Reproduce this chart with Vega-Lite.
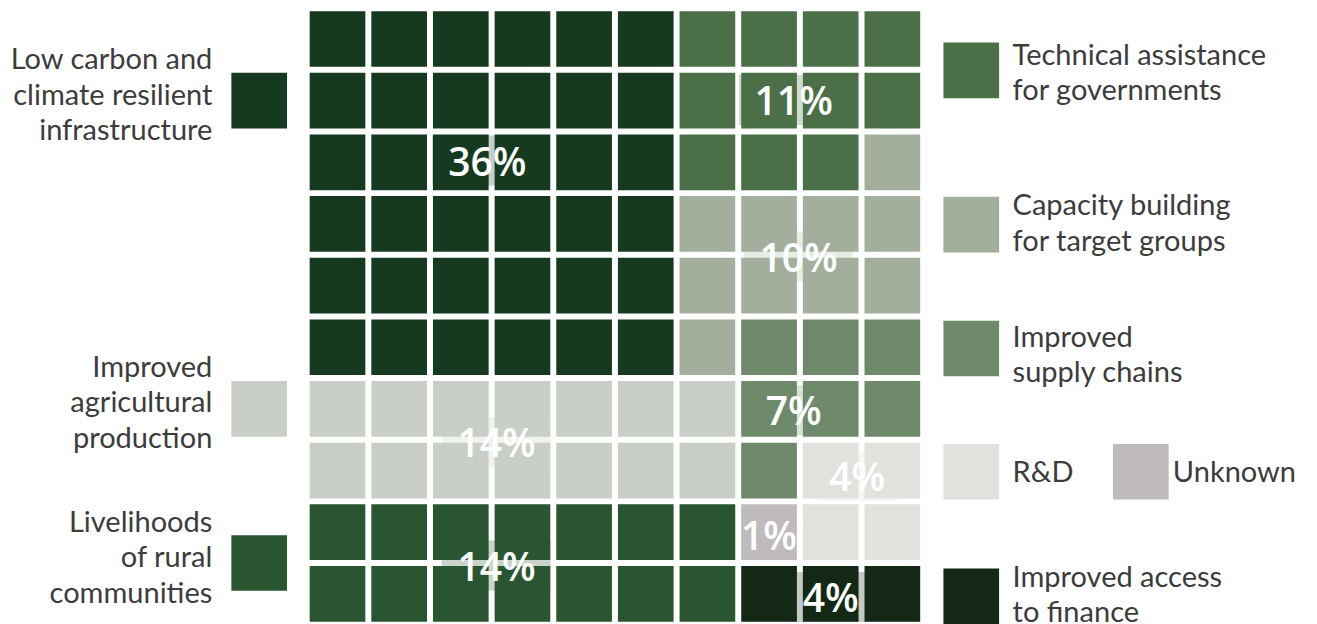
{
  "$schema": "https://vega.github.io/schema/vega-lite/v6.json",
  "width": 1317,
  "height": 624,
  "autosize": {"type": "none"},
  "padding": 0,
  "background": "white",
  "config": {"view": {"stroke": null}},
  "datasets": {
    "cells": [
      {"row": 0, "col": 0, "category": "Infrastructure"}, {"row": 0, "col": 1, "category": "Infrastructure"}, {"row": 0, "col": 2, "category": "Infrastructure"}, {"row": 0, "col": 3, "category": "Infrastructure"}, {"row": 0, "col": 4, "category": "Infrastructure"}, {"row": 0, "col": 5, "category": "Infrastructure"}, {"row": 0, "col": 6, "category": "Technical assistance"}, {"row": 0, "col": 7, "category": "Technical assistance"}, {"row": 0, "col": 8, "category": "Technical assistance"}, {"row": 0, "col": 9, "category": "Technical assistance"},
      {"row": 1, "col": 0, "category": "Infrastructure"}, {"row": 1, "col": 1, "category": "Infrastructure"}, {"row": 1, "col": 2, "category": "Infrastructure"}, {"row": 1, "col": 3, "category": "Infrastructure"}, {"row": 1, "col": 4, "category": "Infrastructure"}, {"row": 1, "col": 5, "category": "Infrastructure"}, {"row": 1, "col": 6, "category": "Technical assistance"}, {"row": 1, "col": 7, "category": "Technical assistance"}, {"row": 1, "col": 8, "category": "Technical assistance"}, {"row": 1, "col": 9, "category": "Technical assistance"},
      {"row": 2, "col": 0, "category": "Infrastructure"}, {"row": 2, "col": 1, "category": "Infrastructure"}, {"row": 2, "col": 2, "category": "Infrastructure"}, {"row": 2, "col": 3, "category": "Infrastructure"}, {"row": 2, "col": 4, "category": "Infrastructure"}, {"row": 2, "col": 5, "category": "Infrastructure"}, {"row": 2, "col": 6, "category": "Technical assistance"}, {"row": 2, "col": 7, "category": "Technical assistance"}, {"row": 2, "col": 8, "category": "Technical assistance"}, {"row": 2, "col": 9, "category": "Capacity building"},
      {"row": 3, "col": 0, "category": "Infrastructure"}, {"row": 3, "col": 1, "category": "Infrastructure"}, {"row": 3, "col": 2, "category": "Infrastructure"}, {"row": 3, "col": 3, "category": "Infrastructure"}, {"row": 3, "col": 4, "category": "Infrastructure"}, {"row": 3, "col": 5, "category": "Infrastructure"}, {"row": 3, "col": 6, "category": "Capacity building"}, {"row": 3, "col": 7, "category": "Capacity building"}, {"row": 3, "col": 8, "category": "Capacity building"}, {"row": 3, "col": 9, "category": "Capacity building"},
      {"row": 4, "col": 0, "category": "Infrastructure"}, {"row": 4, "col": 1, "category": "Infrastructure"}, {"row": 4, "col": 2, "category": "Infrastructure"}, {"row": 4, "col": 3, "category": "Infrastructure"}, {"row": 4, "col": 4, "category": "Infrastructure"}, {"row": 4, "col": 5, "category": "Infrastructure"}, {"row": 4, "col": 6, "category": "Capacity building"}, {"row": 4, "col": 7, "category": "Capacity building"}, {"row": 4, "col": 8, "category": "Capacity building"}, {"row": 4, "col": 9, "category": "Capacity building"},
      {"row": 5, "col": 0, "category": "Infrastructure"}, {"row": 5, "col": 1, "category": "Infrastructure"}, {"row": 5, "col": 2, "category": "Infrastructure"}, {"row": 5, "col": 3, "category": "Infrastructure"}, {"row": 5, "col": 4, "category": "Infrastructure"}, {"row": 5, "col": 5, "category": "Infrastructure"}, {"row": 5, "col": 6, "category": "Capacity building"}, {"row": 5, "col": 7, "category": "Supply chains"}, {"row": 5, "col": 8, "category": "Supply chains"}, {"row": 5, "col": 9, "category": "Supply chains"},
      {"row": 6, "col": 0, "category": "Agricultural production"}, {"row": 6, "col": 1, "category": "Agricultural production"}, {"row": 6, "col": 2, "category": "Agricultural production"}, {"row": 6, "col": 3, "category": "Agricultural production"}, {"row": 6, "col": 4, "category": "Agricultural production"}, {"row": 6, "col": 5, "category": "Agricultural production"}, {"row": 6, "col": 6, "category": "Agricultural production"}, {"row": 6, "col": 7, "category": "Supply chains"}, {"row": 6, "col": 8, "category": "Supply chains"}, {"row": 6, "col": 9, "category": "Supply chains"},
      {"row": 7, "col": 0, "category": "Agricultural production"}, {"row": 7, "col": 1, "category": "Agricultural production"}, {"row": 7, "col": 2, "category": "Agricultural production"}, {"row": 7, "col": 3, "category": "Agricultural production"}, {"row": 7, "col": 4, "category": "Agricultural production"}, {"row": 7, "col": 5, "category": "Agricultural production"}, {"row": 7, "col": 6, "category": "Agricultural production"}, {"row": 7, "col": 7, "category": "Supply chains"}, {"row": 7, "col": 8, "category": "R&D"}, {"row": 7, "col": 9, "category": "R&D"},
      {"row": 8, "col": 0, "category": "Livelihoods"}, {"row": 8, "col": 1, "category": "Livelihoods"}, {"row": 8, "col": 2, "category": "Livelihoods"}, {"row": 8, "col": 3, "category": "Livelihoods"}, {"row": 8, "col": 4, "category": "Livelihoods"}, {"row": 8, "col": 5, "category": "Livelihoods"}, {"row": 8, "col": 6, "category": "Livelihoods"}, {"row": 8, "col": 7, "category": "Unknown"}, {"row": 8, "col": 8, "category": "R&D"}, {"row": 8, "col": 9, "category": "R&D"},
      {"row": 9, "col": 0, "category": "Livelihoods"}, {"row": 9, "col": 1, "category": "Livelihoods"}, {"row": 9, "col": 2, "category": "Livelihoods"}, {"row": 9, "col": 3, "category": "Livelihoods"}, {"row": 9, "col": 4, "category": "Livelihoods"}, {"row": 9, "col": 5, "category": "Livelihoods"}, {"row": 9, "col": 6, "category": "Livelihoods"}, {"row": 9, "col": 7, "category": "Access to finance"}, {"row": 9, "col": 8, "category": "Access to finance"}, {"row": 9, "col": 9, "category": "Access to finance"}
    ],
    "labels": [
      {"label": "36%", "category": "Infrastructure", "u": 2.43, "v": 2.02},
      {"label": "11%", "category": "Technical assistance", "u": 7.40, "v": 1.04},
      {"label": "10%", "category": "Capacity building", "u": 7.48, "v": 3.58},
      {"label": "7%", "category": "Supply chains", "u": 7.40, "v": 6.07},
      {"label": "14%", "category": "Agricultural production", "u": 2.58, "v": 6.59},
      {"label": "4%", "category": "R&D", "u": 8.43, "v": 7.14},
      {"label": "1%", "category": "Unknown", "u": 7.0, "v": 8.10},
      {"label": "14%", "category": "Livelihoods", "u": 2.58, "v": 8.59},
      {"label": "4%", "category": "Access to finance", "u": 8.0, "v": 9.10}
    ],
    "legend": [
      {"side": "left", "category": "Infrastructure", "text": "Low carbon and\nclimate resilient\ninfrastructure", "kx": -1.27, "ky": 1.0, "tx": -2.03, "ty": 0.345},
      {"side": "left", "category": "Agricultural production", "text": "Improved\nagricultural\nproduction", "kx": -1.27, "ky": 6.0, "tx": -2.03, "ty": 5.337},
      {"side": "left", "category": "Livelihoods", "text": "Livelihoods\nof rural\ncommunities", "kx": -1.27, "ky": 8.5, "tx": -2.03, "ty": 7.851},
      {"side": "right", "category": "Technical assistance", "text": "Technical assistance\nfor governments", "kx": 10.28, "ky": 0.51, "tx": 10.95, "ty": 0.269},
      {"side": "right", "category": "Capacity building", "text": "Capacity building\nfor target groups", "kx": 10.28, "ky": 3.01, "tx": 10.95, "ty": 2.714},
      {"side": "right", "category": "Supply chains", "text": "Improved\nsupply chains", "kx": 10.28, "ky": 5.02, "tx": 10.95, "ty": 4.85},
      {"side": "right", "category": "R&D", "text": "R&D", "kx": 10.28, "ky": 7.02, "tx": 10.95, "ty": 7.04},
      {"side": "right", "category": "Unknown", "text": "Unknown", "kx": 13.03, "ky": 7.02, "tx": 13.55, "ty": 7.04},
      {"side": "right", "category": "Access to finance", "text": "Improved access\nto finance", "kx": 10.28, "ky": 9.04, "tx": 10.95, "ty": 8.743}
    ]
  },
  "layer": [
    {
      "data": {"name": "labels"},
      "transform": [{"filter": "length(datum.label) >= 3"}],
      "mark": {"type": "point", "shape": "M-55,-28H54V22H-55Z", "filled": true, "size": 4, "opacity": 0.25, "strokeWidth": 0},
      "encoding": {
        "x": {"field": "u", "type": "quantitative", "scale": {"domain": [-5.4745, 15.888], "nice": false, "zero": false}, "axis": null},
        "y": {"field": "v", "type": "quantitative", "scale": {"domain": [-0.6326, 9.4891], "nice": false, "zero": false, "reverse": true}, "axis": null},
        "color": {"field": "category", "type": "nominal", "legend": null}
      }
    },
    {
      "data": {"name": "labels"},
      "transform": [{"filter": "length(datum.label) < 3 && datum.category !== 'Unknown'"}],
      "mark": {"type": "point", "shape": "M-40,-28H40V22H-40Z", "filled": true, "size": 4, "opacity": 0.25, "strokeWidth": 0},
      "encoding": {
        "x": {"field": "u", "type": "quantitative", "scale": {"domain": [-5.4745, 15.888], "nice": false, "zero": false}, "axis": null},
        "y": {"field": "v", "type": "quantitative", "scale": {"domain": [-0.6326, 9.4891], "nice": false, "zero": false, "reverse": true}, "axis": null},
        "color": {"field": "category", "type": "nominal", "legend": null}
      }
    },
    {
      "data": {"name": "cells"},
      "mark": {"type": "point", "shape": "square", "filled": true, "size": 3100, "opacity": 1, "strokeWidth": 0},
      "encoding": {
        "x": {"field": "col", "type": "quantitative", "scale": {"domain": [-5.4745, 15.888], "nice": false, "zero": false}, "axis": null},
        "y": {"field": "row", "type": "quantitative", "scale": {"domain": [-0.6326, 9.4891], "nice": false, "zero": false, "reverse": true}, "axis": null},
        "color": {
          "field": "category", "type": "nominal", "legend": null,
          "scale": {
            "domain": ["Infrastructure", "Technical assistance", "Capacity building", "Supply chains", "Agricultural production", "R&D", "Livelihoods", "Unknown", "Access to finance"],
            "range": ["#153a20", "#4b7048", "#a3af9c", "#6f8a6b", "#c9cfc6", "#e0e3dd", "#2a5531", "#bfbbbc", "#132916"]
          }
        }
      }
    },
    {
      "data": {"name": "labels"},
      "mark": {"type": "text", "font": "Open Sans", "fontSize": 39, "fontWeight": 600, "fill": "#ffffff", "align": "center", "baseline": "middle"},
      "encoding": {
        "x": {"field": "u", "type": "quantitative", "axis": null},
        "y": {"field": "v", "type": "quantitative", "axis": null},
        "text": {"field": "label"}
      }
    },
    {
      "data": {"name": "legend"},
      "mark": {"type": "point", "shape": "square", "filled": true, "size": 3100, "opacity": 1, "strokeWidth": 0},
      "encoding": {
        "x": {"field": "kx", "type": "quantitative", "axis": null},
        "y": {"field": "ky", "type": "quantitative", "axis": null},
        "color": {"field": "category", "type": "nominal", "legend": null}
      }
    },
    {
      "data": {"name": "legend"},
      "transform": [{"filter": "datum.side === 'left'"}],
      "mark": {"type": "text", "font": "Lato", "fontSize": 29, "fill": "#3c3c3c", "align": "right", "baseline": "middle", "lineBreak": "\n", "lineHeight": 35.3},
      "encoding": {
        "x": {"field": "tx", "type": "quantitative", "axis": null},
        "y": {"field": "ty", "type": "quantitative", "axis": null},
        "text": {"field": "text"}
      }
    },
    {
      "data": {"name": "legend"},
      "transform": [{"filter": "datum.side === 'right'"}],
      "mark": {"type": "text", "font": "Lato", "fontSize": 29, "fill": "#3c3c3c", "align": "left", "baseline": "middle", "lineBreak": "\n", "lineHeight": 35.3},
      "encoding": {
        "x": {"field": "tx", "type": "quantitative", "axis": null},
        "y": {"field": "ty", "type": "quantitative", "axis": null},
        "text": {"field": "text"}
      }
    }
  ]
}
